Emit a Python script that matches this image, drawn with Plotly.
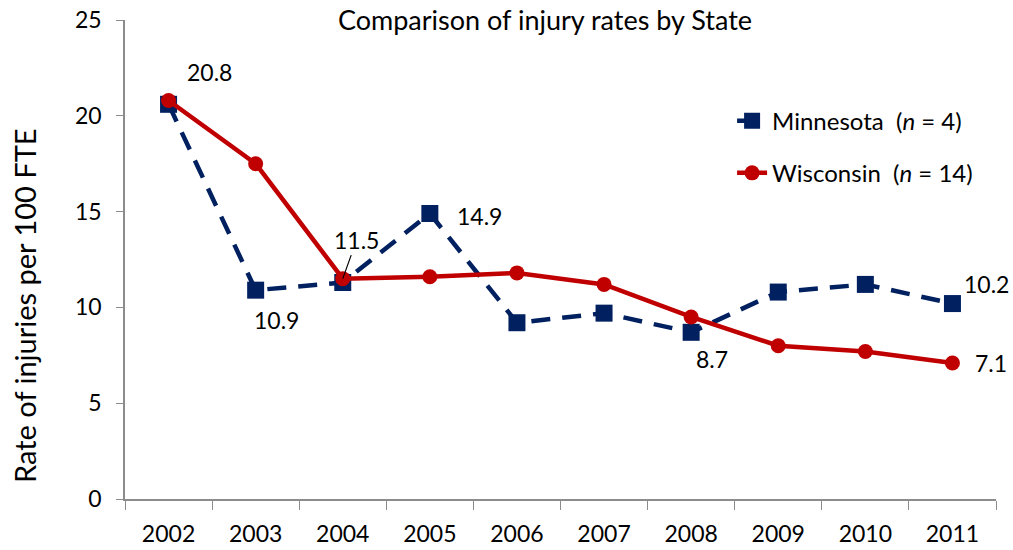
import plotly.graph_objects as go

years = ["2002", "2003", "2004", "2005", "2006", "2007", "2008", "2009", "2010", "2011"]
minnesota = [20.6, 10.9, 11.3, 14.9, 9.2, 9.7, 8.7, 10.8, 11.2, 10.2]
wisconsin = [20.8, 17.5, 11.5, 11.6, 11.8, 11.2, 9.5, 8.0, 7.7, 7.1]

# labelled points: (year, value, x shift, y shift)
labels = [
    ("2002", 20.8, 41, 28),
    ("2003", 10.9, 21, -30),
    ("2005", 14.9, 50, -2),
    ("2008", 8.7, 21, -27),
    ("2011", 10.2, 34, 20),
    ("2011", 7.1, 39, 0),
]

navy = "#002060"
red = "#C00000"
font = "Lato, 'Open Sans', sans-serif"

fig = go.Figure()
fig.add_trace(go.Scatter(
    x=years, y=minnesota, mode="lines+markers",
    name="Minnesota  (<i>n</i> = 4)", legendgroup="mn",
    line=dict(color=navy, width=4.5, dash="19px,12px"),
    marker=dict(symbol="square", size=17, color=navy),
))
fig.add_trace(go.Scatter(
    x=years, y=wisconsin, mode="lines+markers",
    name="Wisconsin  (<i>n</i> = 14)", legendgroup="wi",
    line=dict(color=red, width=4.5),
    marker=dict(symbol="circle", size=15, color=red),
))

for yr, val, dx, dy in labels:
    fig.add_annotation(x=years.index(yr), y=val, text=f"{val:.1f}", showarrow=False,
                       xshift=dx, yshift=dy, font=dict(size=23, color="black"))

# 11.5 with a leader line
fig.add_annotation(x=years.index("2004"), y=wisconsin[2], text="11.5", showarrow=True,
                   arrowhead=0, arrowwidth=1.2, arrowcolor="black",
                   ax=14, ay=-39, standoff=0, font=dict(size=23, color="black"))

# y axis title sits a bit below the middle of the axis, as in the original
fig.add_annotation(xref="paper", yref="paper", x=-0.116, y=0.405, text="Rate of injuries per 100 FTE",
                   textangle=-90, showarrow=False, xanchor="center", yanchor="middle",
                   font=dict(size=29, color="black"))

fig.update_layout(
    width=1013, height=550,
    margin=dict(l=125, r=17, t=20, b=51),
    paper_bgcolor="white", plot_bgcolor="white",
    font=dict(family=font, size=20, color="black"),
    title=dict(text="Comparison of injury rates by State", x=0.538, xanchor="center",
               y=0.963, yanchor="middle", font=dict(size=27)),
    legend=dict(x=0.697, y=0.836, xanchor="left", yanchor="top",
                font=dict(size=24), tracegroupgap=18, bgcolor="rgba(0,0,0,0)"),
    showlegend=True,
)
fig.update_xaxes(type="category", range=[-0.5, 9.5], automargin=False, showgrid=False,
                 showline=True, linecolor="#8c8c8c", linewidth=1.5, ticks="outside",
                 tickson="boundaries", ticklen=9, tickcolor="#8c8c8c",
                 ticklabelstandoff=14, tickfont=dict(size=23))
fig.update_yaxes(range=[0, 25], dtick=5, automargin=False, showgrid=False, zeroline=False,
                 showline=True, linecolor="#8c8c8c", linewidth=1.5, ticks="outside",
                 ticklen=7, tickcolor="#8c8c8c", ticklabelstandoff=10, tickfont=dict(size=23))

fig.write_html("out.html", config={"displayModeBar": False},
               post_script="document.body.style.margin='0';")
